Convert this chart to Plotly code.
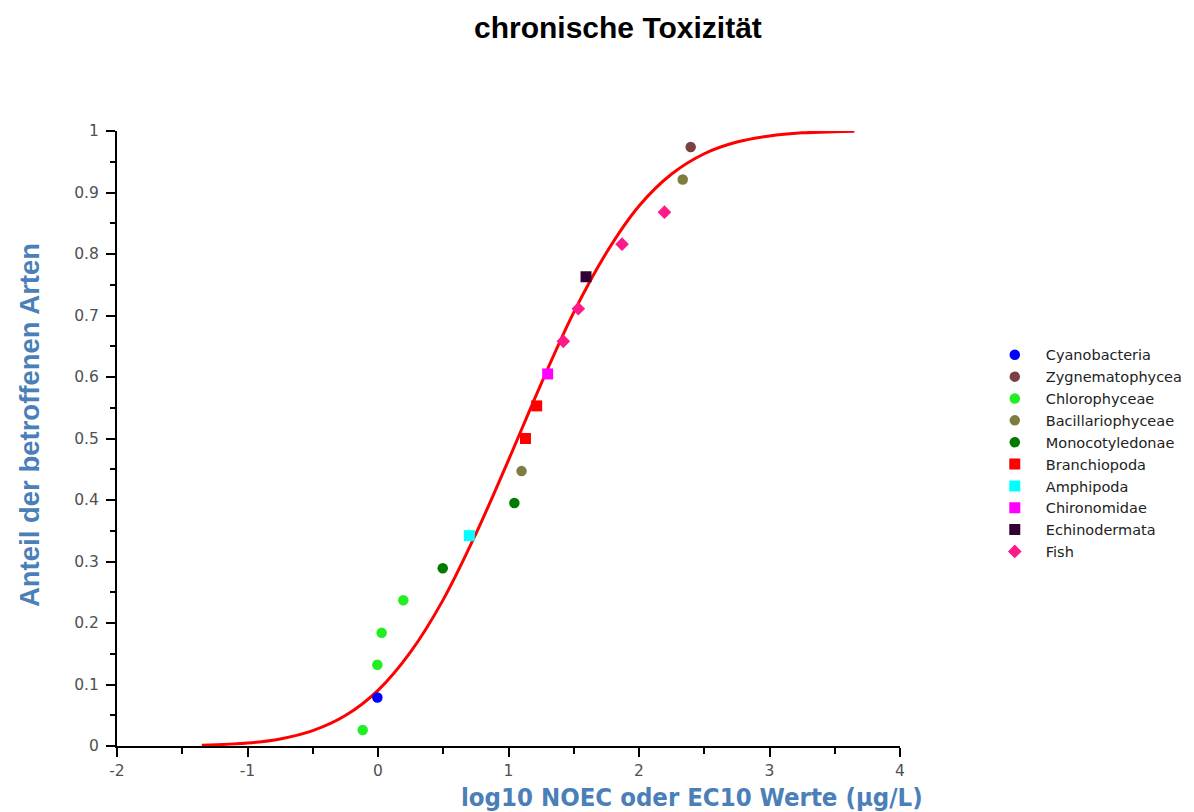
import plotly.graph_objects as go

# ---- data ----
series_names = ["Cyanobacteria", "Zygnematophycea", "Chlorophyceae", "Bacillariophyceae",
                "Monocotyledonae", "Branchiopoda", "Amphipoda", "Chironomidae",
                "Echinodermata", "Fish"]
cyano_x = [-0.005]; cyano_y = [0.079]
zygn_x = [2.396]; zygn_y = [0.974]
chloro_x = [-0.117, -0.005, 0.028, 0.194]; chloro_y = [0.026, 0.132, 0.184, 0.237]
bacill_x = [1.10, 2.335]; bacill_y = [0.447, 0.921]
monoc_x = [0.496, 1.045]; monoc_y = [0.289, 0.395]
branch_x = [1.13, 1.216]; branch_y = [0.500, 0.553]
amphi_x = [0.70]; amphi_y = [0.342]
chiro_x = [1.30]; chiro_y = [0.605]
echino_x = [1.594]; echino_y = [0.763]
fish_x = [1.42, 1.535, 1.87, 2.195]; fish_y = [0.658, 0.711, 0.816, 0.868]

# fitted curve, read at several points
curve_x = [-1.35, -1.0, -0.75, -0.5, -0.25, 0.0, 0.25, 0.5, 0.75, 1.0, 1.25, 1.5,
           1.75, 2.0, 2.25, 2.5, 2.75, 3.0, 3.25, 3.5, 3.65]
curve_y = [0.0012, 0.0048, 0.0115, 0.025, 0.0495, 0.0905, 0.153, 0.238, 0.345, 0.465,
           0.589, 0.705, 0.802, 0.878, 0.930, 0.963, 0.982, 0.992, 0.997, 0.9988, 0.9994]

x_ticks = [-2, -1, 0, 1, 2, 3, 4]
x_ticklabels = ["-2", "-1", "0", "1", "2", "3", "4"]
y_ticks = [0, 0.1, 0.2, 0.3, 0.4, 0.5, 0.6, 0.7, 0.8, 0.9, 1]
y_ticklabels = ["0", "0.1", "0.2", "0.3", "0.4", "0.5", "0.6", "0.7", "0.8", "0.9", "1"]

series_x = [cyano_x, zygn_x, chloro_x, bacill_x, monoc_x, branch_x, amphi_x, chiro_x, echino_x, fish_x]
series_y = [cyano_y, zygn_y, chloro_y, bacill_y, monoc_y, branch_y, amphi_y, chiro_y, echino_y, fish_y]
colors = ["#0000ff", "#7d4040", "#22ee22", "#7d7d40", "#007a00", "#ff0000", "#00ffff",
          "#ff00ff", "#330033", "#ff1a8c"]
symbols = ["circle"] * 5 + ["square"] * 4 + ["diamond"]
sizes = [10.5] * 5 + [11] * 4 + [10.5]

fig = go.Figure()
fig.add_trace(go.Scatter(x=curve_x, y=curve_y, mode="lines", line=dict(color="#ff0000", width=3, shape="spline"),
                         showlegend=False, hoverinfo="skip"))
for name, xs, ys, c, s, sz in zip(series_names, series_x, series_y, colors, symbols, sizes):
    fig.add_trace(go.Scatter(x=xs, y=ys, mode="markers", name=name,
                             marker=dict(color=c, symbol=s, size=sz, line=dict(width=0))))

tickfont = dict(family="DejaVu Sans, Verdana, sans-serif", size=15.5, color="#505050")
fig.update_layout(
    width=1194, height=812,
    paper_bgcolor="white", plot_bgcolor="white",
    margin=dict(l=109, r=302, t=123, b=74),
    xaxis=dict(range=[-2, 4], tickvals=x_ticks, ticktext=x_ticklabels, showgrid=False, zeroline=False,
               showline=True, linecolor="black", linewidth=2,
               ticks="outside", ticklen=9, tickwidth=2, tickcolor="black", tickfont=tickfont,
               minor=dict(dtick=0.5, ticks="outside", ticklen=6, tickwidth=2, tickcolor="black")),
    yaxis=dict(range=[0, 1.0], tickvals=y_ticks, ticktext=y_ticklabels, showgrid=False, zeroline=False,
               showline=True, linecolor="black", linewidth=2, ticklabelstandoff=4,
               ticks="outside", ticklen=9, tickwidth=2, tickcolor="black", tickfont=tickfont,
               minor=dict(dtick=0.05, ticks="outside", ticklen=5, tickwidth=2, tickcolor="black")),
    legend=dict(x=1.107, y=0.662, xanchor="left", yanchor="top", bgcolor="rgba(0,0,0,0)",
                font=dict(family="DejaVu Sans, Verdana, sans-serif", size=14.5, color="#222222"),
                tracegroupgap=0, itemwidth=52),
    showlegend=True,
)

fig.add_annotation(text="<b>chronische Toxizität</b>", xref="paper", yref="paper",
                   x=0.64, y=1.169, xanchor="center", yanchor="middle", showarrow=False,
                   font=dict(family="Liberation Sans, Arial, sans-serif", size=30, color="black"))
fig.add_annotation(text="<b>log10 NOEC oder EC10 Werte (µg/L)</b>", xref="paper", yref="paper",
                   x=1.032, y=-0.083, xanchor="right", yanchor="middle", showarrow=False,
                   font=dict(family="DejaVu Sans Condensed, Liberation Sans Narrow, sans-serif",
                             size=25.5, color="#4a7fb8"))
fig.add_annotation(text="<b>Anteil der betroffenen Arten</b>", xref="paper", yref="paper",
                   x=-0.111, y=0.522, xanchor="center", yanchor="middle", textangle=-90, showarrow=False,
                   font=dict(family="Liberation Sans, Arial, sans-serif", size=27.5, color="#4a7fb8"))

fig.write_html("out.html")
